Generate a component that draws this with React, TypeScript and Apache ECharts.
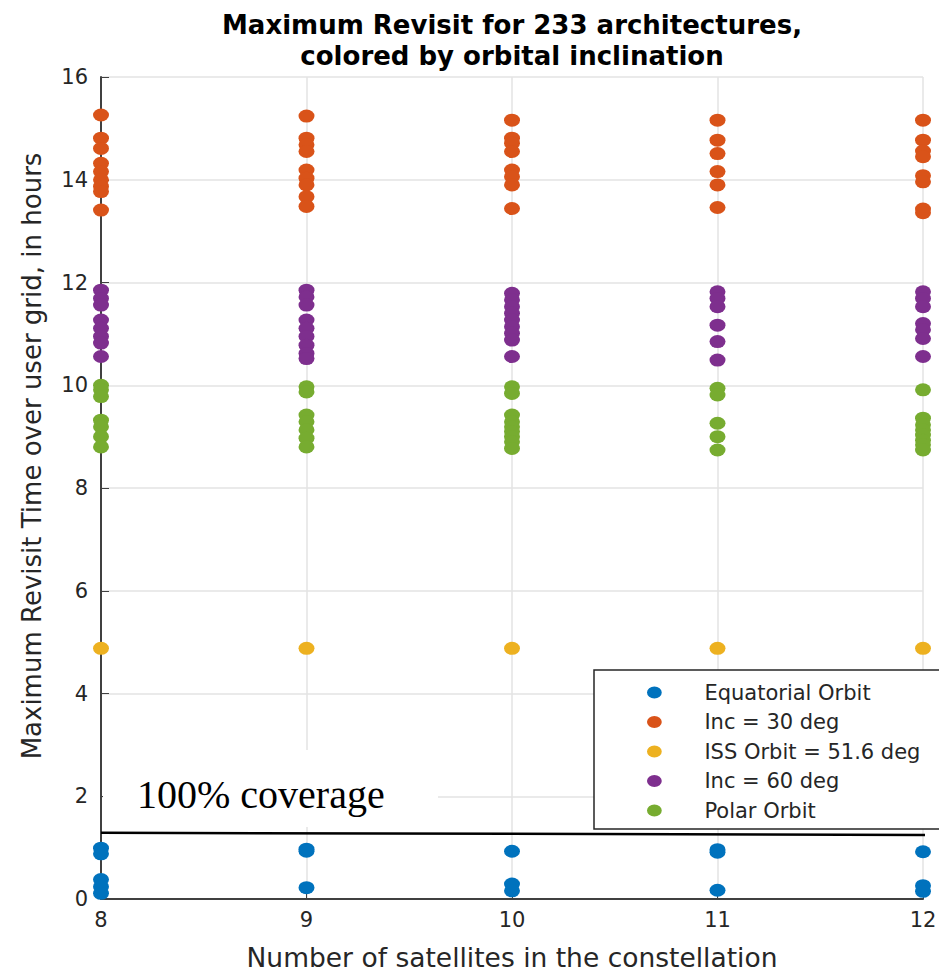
import React, { useEffect, useRef } from "react";
import * as echarts from "echarts";

const satellites = [8, 9, 10, 11, 12];
const xTicks = { min: 8, max: 12, interval: 1 };
const yTicks = { min: 0, max: 16, interval: 2 };

const equatorialOrbit = [
  [0.99, 0.88, 0.38, 0.24, 0.11],
  [0.97, 0.93, 0.22],
  [0.93, 0.29, 0.16],
  [0.96, 0.91, 0.17],
  [0.92, 0.26, 0.15],
];
const inc30 = [
  [15.26, 14.81, 14.61, 14.32, 14.16, 14.0, 13.87, 13.77, 13.41],
  [15.24, 14.81, 14.68, 14.55, 14.19, 14.03, 13.9, 13.67, 13.48],
  [15.16, 14.81, 14.71, 14.55, 14.19, 14.06, 13.9, 13.44],
  [15.16, 14.77, 14.51, 14.16, 13.9, 13.46],
  [15.16, 14.77, 14.56, 14.45, 14.08, 13.96, 13.43, 13.36],
];
const issOrbit = [[4.88], [4.88], [4.88], [4.88], [4.88]];
const inc60 = [
  [11.85, 11.69, 11.56, 11.27, 11.11, 10.95, 10.82, 10.56],
  [11.85, 11.72, 11.56, 11.27, 11.11, 10.95, 10.78, 10.62, 10.52],
  [11.79, 11.66, 11.53, 11.4, 11.27, 11.14, 11.01, 10.88, 10.56],
  [11.82, 11.69, 11.53, 11.17, 10.85, 10.49],
  [11.82, 11.69, 11.53, 11.2, 11.08, 10.91, 10.56],
];
const polarOrbit = [
  [10.0, 9.91, 9.78, 9.32, 9.19, 9.0, 8.8],
  [9.97, 9.87, 9.42, 9.29, 9.13, 8.97, 8.8],
  [9.97, 9.84, 9.42, 9.29, 9.19, 9.1, 9.0, 8.9, 8.77],
  [9.94, 9.81, 9.26, 9.0, 8.74],
  [9.91, 9.36, 9.23, 9.13, 9.03, 8.93, 8.84, 8.74],
];
const coverageLine = [
  [8, 1.29],
  [12.04, 1.245],
];

const seriesNames = [
  "Equatorial Orbit",
  "Inc = 30 deg",
  "ISS Orbit = 51.6 deg",
  "Inc = 60 deg",
  "Polar Orbit",
];
const seriesValues = [equatorialOrbit, inc30, issOrbit, inc60, polarOrbit];
const seriesColors = ["#0072BD", "#D95319", "#EDB120", "#7E2F8E", "#77AC30"];

const ellipse = "path://M0,6.5A8,6.5,0,1,1,16,6.5A8,6.5,0,1,1,0,6.5Z";
const FONT = "DejaVu Sans";

export default function App() {
  const ref = useRef<HTMLDivElement>(null);
  useEffect(() => {
    if (!ref.current) return;
    const chart = echarts.init(ref.current, undefined, { renderer: "svg" });
    const scatter = seriesNames.map((name, k) => ({
      name,
      type: "scatter",
      symbol: ellipse,
      symbolSize: [16, 13],
      itemStyle: { color: seriesColors[k], opacity: 1 },
      data: satellites.flatMap((x, i) => seriesValues[k][i].map((v) => [x, v])),
      z: 3,
    }));
    chart.setOption({
      animation: false,
      backgroundColor: "#ffffff",
      title: {
        text: "Maximum Revisit for 233 architectures,\ncolored by orbital inclination",
        left: 512,
        top: 9,
        textAlign: "center",
        padding: 0,
        textStyle: {
          fontFamily: FONT,
          fontWeight: "bold",
          fontSize: 26,
          lineHeight: 31,
          color: "#000000",
        },
      },
      grid: {
        left: 101,
        right: 16,
        top: 77,
        bottom: 74,
        containLabel: false,
        outerBoundsMode: "none",
      },
      xAxis: {
        type: "value",
        min: xTicks.min,
        max: xTicks.max,
        interval: xTicks.interval,
        name: "Number of satellites in the constellation",
        nameLocation: "middle",
        nameGap: 45,
        nameTextStyle: {
          fontFamily: FONT,
          fontSize: 26.5,
          lineHeight: 26,
          color: "#262626",
        },
        axisLine: { lineStyle: { color: "#404040", width: 2 } },
        axisTick: { inside: true, length: 8, lineStyle: { color: "#404040" } },
        axisLabel: { fontFamily: FONT, fontSize: 21, color: "#262626", margin: 10 },
        splitLine: { show: true, lineStyle: { color: "#e3e3e3", width: 1.5 } },
      },
      yAxis: {
        type: "value",
        min: yTicks.min,
        max: yTicks.max,
        interval: yTicks.interval,
        name: "Maximum Revisit Time over user grid, in hours",
        nameLocation: "middle",
        nameGap: 56,
        nameTextStyle: {
          fontFamily: FONT,
          fontSize: 26,
          color: "#262626",
          padding: [0, 0, 0, 64],
        },
        axisLine: { show: true, lineStyle: { color: "#404040", width: 2 } },
        axisTick: { show: true, inside: true, length: 8, lineStyle: { color: "#404040" } },
        axisLabel: { fontFamily: FONT, fontSize: 21, color: "#262626", margin: 13 },
        splitLine: { show: true, lineStyle: { color: "#e3e3e3", width: 1.5 } },
      },
      legend: {
        data: seriesNames,
        orient: "vertical",
        left: 594,
        top: 670,
        padding: [12, 30, 8, 53],
        itemGap: 8.5,
        itemWidth: 16,
        itemHeight: 12,
        icon: ellipse,
        backgroundColor: "#ffffff",
        borderColor: "#262626",
        borderWidth: 1.5,
        borderRadius: 0,
        textStyle: {
          fontFamily: FONT,
          fontSize: 21,
          lineHeight: 20,
          color: "#262626",
          padding: [0, 0, 0, 37],
        },
        z: 10,
      },
      graphic: [
        {
          type: "rect",
          z: 5,
          shape: { x: 103, y: 750, width: 335, height: 77 },
          style: { fill: "#ffffff" },
        },
        {
          type: "text",
          z: 6,
          x: 137,
          y: 794,
          style: {
            text: "100% coverage",
            font: '40px "Liberation Serif"',
            fill: "#000000",
            verticalAlign: "middle",
            align: "left",
          },
        },
      ],
      series: [
        ...scatter,
        {
          name: "coverage",
          type: "line",
          data: coverageLine,
          symbol: "none",
          clip: false,
          silent: true,
          lineStyle: { color: "#000000", width: 2.5 },
          z: 6,
        },
      ],
    });
    return () => chart.dispose();
  }, []);
  return (
    <div
      ref={ref}
      style={{ position: "absolute", left: 0, top: 0, width: 939, height: 973, background: "#fff" }}
    />
  );
}
